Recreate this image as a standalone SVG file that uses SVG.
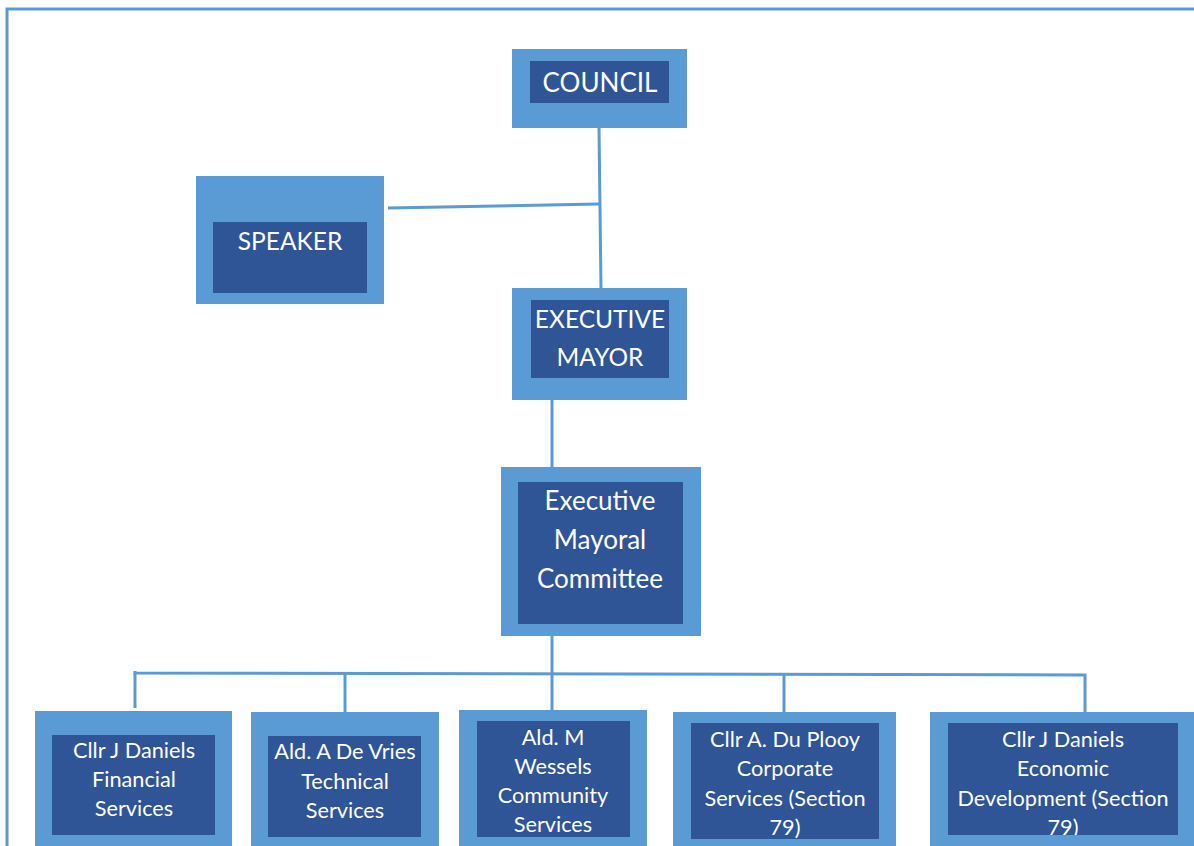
<svg xmlns="http://www.w3.org/2000/svg" width="1194" height="846" viewBox="0 0 1194 846">
<style>
.o{fill:#5b9bd5}
.i{fill:#2f5597}
.t{fill:#ffffff;font-family:Lato,"Liberation Sans",sans-serif;text-anchor:middle}
.L{font-size:26px}
.M{font-size:24.5px}
.S{font-size:21.7px}
.c{stroke:#5b9bd5;stroke-width:3;fill:none}
</style>
<defs>
<clipPath id="clip5"><rect x="948" y="723" width="230" height="112"/></clipPath>
</defs>
<rect width="1194" height="846" fill="#ffffff"/>
<path class="c" d="M7 846V9H1194"/>
<g id="connectors">
<path class="c" d="M599 128L601 289"/>
<path class="c" d="M388 208L599 204"/>
<path class="c" d="M552 400V467"/>
<path class="c" d="M552 636V710"/>
<path class="c" d="M135 671V673L1085 675V712"/>
<path class="c" d="M135 673V708"/>
<path class="c" d="M345 673V712"/>
<path class="c" d="M784 674V712"/>
</g>
<g id="council">
<rect class="o" x="512" y="49" width="175" height="79"/>
<rect class="i" x="530" y="61" width="139" height="42"/>
<text class="t L" x="600" y="92">COUNCIL</text>
</g>
<g id="speaker">
<rect class="o" x="196" y="176" width="188" height="128"/>
<rect class="i" x="213" y="222" width="154" height="71"/>
<text class="t M" x="290" y="250">SPEAKER</text>
</g>
<g id="executive-mayor">
<rect class="o" x="512" y="288" width="175" height="112"/>
<rect class="i" x="531" y="300" width="138" height="78"/>
<text class="t M" x="600" y="328">EXECUTIVE</text>
<text class="t M" x="600" y="366">MAYOR</text>
</g>
<g id="mayoral-committee">
<rect class="o" x="501" y="467" width="200" height="169"/>
<rect class="i" x="518" y="482" width="165" height="142"/>
<text class="t L" x="600" y="510">Executive</text>
<text class="t L" x="600" y="549">Mayoral</text>
<text class="t L" x="600" y="588">Committee</text>
</g>
<g id="financial">
<rect class="o" x="35" y="711" width="197" height="140"/>
<rect class="i" x="52" y="735" width="163" height="100"/>
<text class="t S" x="134" y="758">Cllr J Daniels</text>
<text class="t S" x="134" y="787">Financial</text>
<text class="t S" x="134" y="816">Services</text>
</g>
<g id="technical">
<rect class="o" x="251" y="712" width="188" height="140"/>
<rect class="i" x="268" y="736" width="153" height="101"/>
<text class="t S" x="345" y="759">Ald. A De Vries</text>
<text class="t S" x="345" y="789">Technical</text>
<text class="t S" x="345" y="818">Services</text>
</g>
<g id="community">
<rect class="o" x="459" y="710" width="188" height="140"/>
<rect class="i" x="477" y="721" width="153" height="116"/>
<text class="t S" x="553" y="745">Ald. M</text>
<text class="t S" x="553" y="774">Wessels</text>
<text class="t S" x="553" y="803">Community</text>
<text class="t S" x="553" y="832">Services</text>
</g>
<g id="corporate">
<rect class="o" x="673" y="712" width="223" height="140"/>
<rect class="i" x="691" y="723" width="188" height="116"/>
<text class="t S" x="785" y="747">Cllr A. Du Plooy</text>
<text class="t S" x="785" y="776">Corporate</text>
<text class="t S" x="785" y="806">Services (Section</text>
<text class="t S" x="785" y="835">79)</text>
</g>
<g id="economic">
<rect class="o" x="930" y="712" width="270" height="140"/>
<rect class="i" x="948" y="723" width="230" height="112"/>
<g clip-path="url(#clip5)">
<text class="t S" x="1063" y="747">Cllr J Daniels</text>
<text class="t S" x="1063" y="776">Economic</text>
<text class="t S" x="1063" y="806">Development (Section</text>
<text class="t S" x="1063" y="835">79)</text>
</g>
</g>
</svg>
